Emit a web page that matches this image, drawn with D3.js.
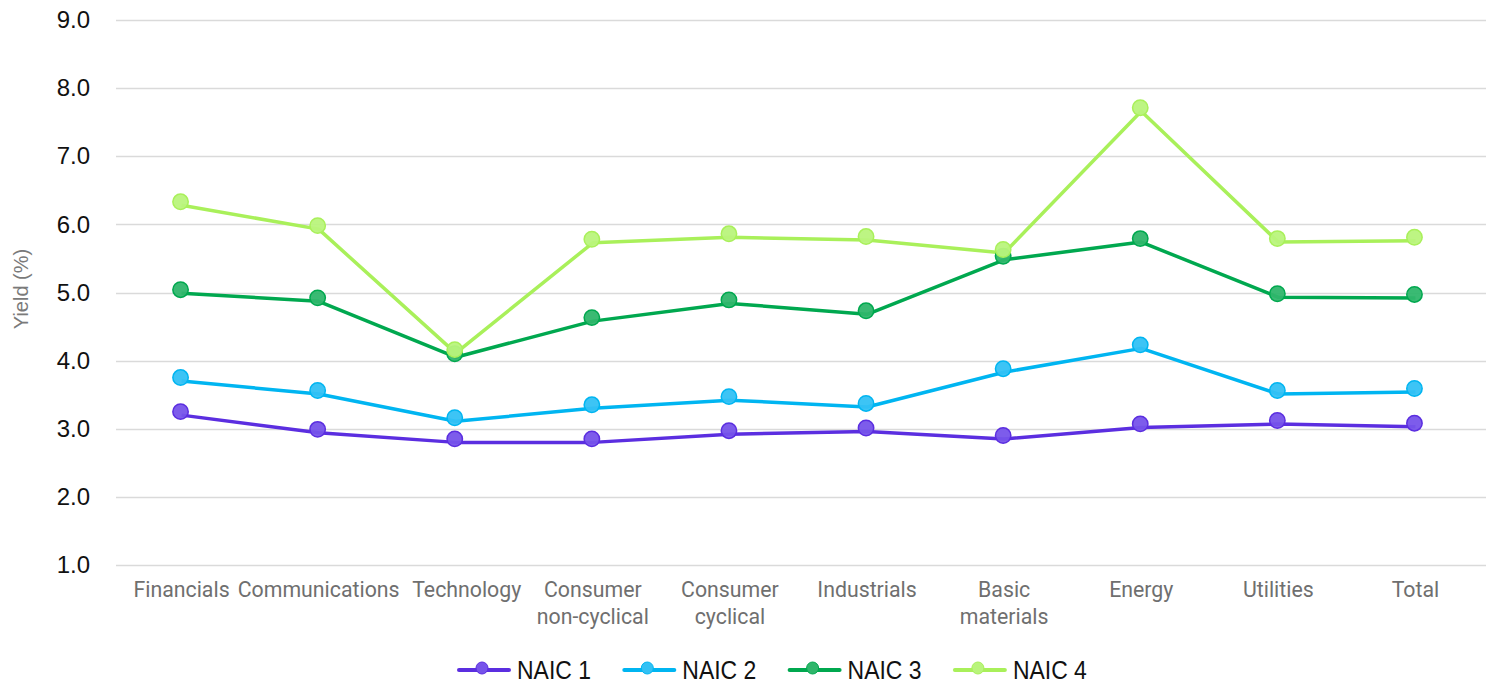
<!DOCTYPE html>
<html>
<head>
<meta charset="utf-8">
<script src="https://cdn.jsdelivr.net/npm/d3@7"></script>
<style>
  body { margin: 0; background: #fff; }
  svg { display: block; }
</style>
</head>
<body>
<svg id="chart" width="1493" height="685"></svg>
<script>
// data
const categories = ['Financials', 'Communications', 'Technology', 'Consumer non-cyclical', 'Consumer cyclical',
  'Industrials', 'Basic materials', 'Energy', 'Utilities', 'Total'];
const naic1 = [3.20, 2.94, 2.80, 2.80, 2.92, 2.96, 2.85, 3.02, 3.07, 3.03];
const naic2 = [3.70, 3.51, 3.11, 3.30, 3.42, 3.32, 3.83, 4.18, 3.51, 3.54];
const naic3 = [4.99, 4.87, 4.05, 4.58, 4.84, 4.68, 5.48, 5.74, 4.93, 4.92];
const naic4 = [6.28, 5.93, 4.11, 5.73, 5.81, 5.77, 5.58, 7.66, 5.74, 5.76];
const seriesNames = ['NAIC 1', 'NAIC 2', 'NAIC 3', 'NAIC 4'];
const yTicks = [1, 2, 3, 4, 5, 6, 7, 8, 9];

const series = [
  { name: seriesNames[0], values: naic1, color: '#5b2ee0', fill: '#7653ea' },
  { name: seriesNames[1], values: naic2, color: '#00b5f1', fill: '#33c1f4' },
  { name: seriesNames[2], values: naic3, color: '#00a84f', fill: '#2fb66b' },
  { name: seriesNames[3], values: naic4, color: '#a9f05a', fill: '#b9f47c' }
];

const svg = d3.select('#chart');
const margin = { top: 20, right: 7, bottom: 120, left: 116 };
const width = 1493, height = 685;

const x = d3.scaleBand()
  .domain(categories)
  .range([margin.left - 3, width - margin.right - 2])
  .padding(0);

const y = d3.scaleLinear()
  .domain([1, 9])
  .range([565, margin.top]);

// gridlines
svg.append('g')
  .selectAll('line')
  .data(yTicks)
  .join('line')
  .attr('x1', margin.left)
  .attr('x2', width - margin.right)
  .attr('y1', d => Math.round(y(d)) + 0.5)
  .attr('y2', d => Math.round(y(d)) + 0.5)
  .attr('stroke', '#dadada')
  .attr('stroke-width', 1.3);

// y axis labels
const yAxis = d3.axisLeft(y).tickValues(yTicks).tickFormat(d3.format('.1f')).tickSize(0).tickPadding(0);
svg.append('g')
  .attr('transform', 'translate(90,0)')
  .call(yAxis)
  .call(g => g.select('.domain').remove())
  .selectAll('text')
  .attr('font-family', 'Liberation Sans, Arial, sans-serif')
  .attr('font-size', 24)
  .attr('fill', '#111');

// y axis title
svg.append('text')
  .attr('transform', 'translate(28,289) rotate(-90)')
  .attr('text-anchor', 'middle')
  .attr('font-family', 'Liberation Sans, Arial, sans-serif')
  .attr('font-size', 20)
  .attr('fill', '#7a7a7a')
  .text('Yield (%)');

// x axis labels (wrapped to two lines)
const xAxis = d3.axisBottom(x).tickSize(0).tickPadding(0);
const xg = svg.append('g')
  .attr('transform', 'translate(0,578)')
  .call(xAxis);
xg.select('.domain').remove();
xg.selectAll('text')
  .attr('font-family', 'Roboto, sans-serif')
  .attr('font-size', 21.3)
  .attr('fill', '#6f6f6f')
  .each(function (d) {
    const t = d3.select(this);
    const words = d.split(' ');
    const lines = (d === 'Financials' || d === 'Communications') ? [d] :
      words.length > 1 ? [words[0], words.slice(1).join(' ')] : [d];
    // nudge Technology so it doesn't run into Communications
    const shift = d === 'Technology' ? 11 : 0;
    t.text(null).attr('dy', null);
    lines.forEach((ln, i) => {
      t.append('tspan')
        .attr('x', shift)
        .attr('y', 19 + i * 27)
        .text(ln);
    });
  });

const line = d3.line()
  .x((d, i) => x(categories[i]) + x.bandwidth() / 2)
  .y(d => y(d));

// lines
svg.append('g')
  .selectAll('path')
  .data(series)
  .join('path')
  .attr('d', s => line(s.values))
  .attr('fill', 'none')
  .attr('stroke', s => s.color)
  .attr('stroke-width', 3.5)
  .attr('stroke-linejoin', 'round');

// markers (sit a touch above the line vertex, as in the original)
const markers = svg.append('g').attr('transform', 'translate(-1,-3.5)');
series.forEach(s => {
  markers.append('g')
    .selectAll('circle')
    .data(s.values)
    .join('circle')
    .attr('cx', (d, i) => x(categories[i]) + x.bandwidth() / 2)
    .attr('cy', d => y(d))
    .attr('r', 7.7)
    .attr('fill', s.fill)
    .attr('fill-opacity', 0.95)
    .attr('stroke', s.color)
    .attr('stroke-width', 1.5);
});

// legend
const legend = svg.append('g').attr('transform', 'translate(457,670)');
const item = legend.selectAll('g')
  .data(series)
  .join('g')
  .attr('transform', (d, i) => `translate(${i * 165.3},0)`);
item.append('line')
  .attr('x1', 2).attr('x2', 52)
  .attr('y1', 0).attr('y2', 0)
  .attr('stroke', d => d.color)
  .attr('stroke-width', 4)
  .attr('stroke-linecap', 'round');
item.append('circle')
  .attr('cx', 25).attr('cy', -2)
  .attr('r', 6)
  .attr('fill', d => d.fill)
  .attr('stroke', d => d.color)
  .attr('stroke-width', 1);
item.append('text')
  .attr('x', 60)
  .attr('y', 8.5)
  .attr('font-family', 'Liberation Sans Narrow, Liberation Sans, Arial, sans-serif')
  .attr('font-size', 25)
  .attr('fill', '#111')
  .attr('textLength', 74)
  .attr('lengthAdjust', 'spacingAndGlyphs')
  .text(d => d.name);
</script>
</body>
</html>
